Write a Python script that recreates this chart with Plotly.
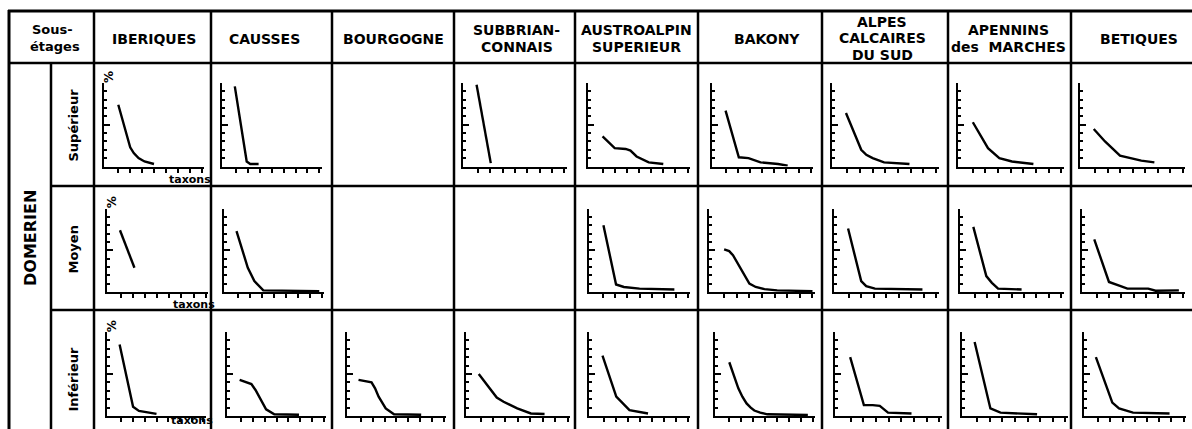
import plotly.graph_objects as go

# ---------------- data ----------------
HEADERS = [["IBERIQUES"], ["CAUSSES"], ["BOURGOGNE"], ["SUBBRIAN-", "CONNAIS"],
           ["AUSTROALPIN", "SUPERIEUR"], ["BAKONY"], ["ALPES", "CALCAIRES", "DU SUD"],
           ["APENNINS", "des\u00a0 MARCHES"], ["BETIQUES"]]
CORNER = ["Sous-", "étages"]
STAGE = "DOMERIEN"
SUBSTAGES = ["Supérieur", "Moyen", "Inférieur"]
X_TICKS = [1, 2, 3, 4, 5, 6, 7, 8]
Y_LABEL = "%"
X_LABEL = "taxons"

# Supérieur
SUP_IBER_X = [1, 1.5, 2, 2.3, 2.7, 3.2, 4]
SUP_IBER_Y = [74, 48, 23, 16, 10, 6, 3]
SUP_CAUS_X = [0.9, 1.9, 2.2, 2.9]
SUP_CAUS_Y = [96, 6, 3, 3]
SUP_SUBB_X = [0.9, 2.05]
SUP_SUBB_Y = [98, 4]
SUP_AUST_X = [1, 2, 2.9, 3.3, 3.8, 4.8, 6]
SUP_AUST_Y = [36, 22, 21, 19, 12, 5, 3]
SUP_BAKO_X = [0.95, 2.05, 2.85, 3.85, 5.3, 6.1]
SUP_BAKO_Y = [67, 11, 10, 5, 3, 1]
SUP_ALPE_X = [0.9, 2.1, 2.5, 3, 3.9, 5.9]
SUP_ALPE_Y = [64, 20, 14, 10, 5, 3]
SUP_APEN_X = [1, 2.2, 3.1, 4.1, 5.8]
SUP_APEN_Y = [53, 22, 10, 6, 3]
SUP_BETI_X = [0.9, 1.8, 3, 3.85, 4.7, 5.75]
SUP_BETI_Y = [45, 30, 13, 10, 7, 5]

# Moyen
MOY_IBER_X = [0.9, 2.1]
MOY_IBER_Y = [74, 29]
MOY_CAUS_X = [0.85, 1.8, 2.35, 3.1, 7.8]
MOY_CAUS_Y = [73, 29, 13, 2, 1]
MOY_AUST_X = [1, 2.05, 2.7, 4, 6.9]
MOY_AUST_Y = [80, 9, 6, 4, 3]
MOY_BAKO_X = [1, 1.4, 1.7, 2, 2.35, 2.7, 3, 3.5, 4.2, 5.2, 8]
MOY_BAKO_Y = [51, 49, 44, 36, 26, 17, 10, 6, 3.5, 2, 1]
MOY_ALPE_X = [0.95, 2, 2.4, 3.1, 6.9]
MOY_ALPE_Y = [76, 13, 7, 4, 3]
MOY_APEN_X = [0.9, 1.6, 1.95, 2.4, 2.9, 4.8]
MOY_APEN_Y = [78, 40, 19, 11, 4, 3]
MOY_BETI_X = [0.8, 2, 2.95, 3.5, 5.2, 5.8, 7.7]
MOY_BETI_Y = [63, 12, 7, 4, 4, 1.5, 2]

# Inférieur
INF_IBER_X = [0.85, 2, 2.5, 3, 4]
INF_IBER_Y = [85, 11, 6, 5, 2.5]
INF_CAUS_X = [0.85, 1.85, 2.2, 2.55, 3.1, 3.8, 5.9]
INF_CAUS_Y = [43, 38, 31, 22, 8, 2, 1.5]
INF_BOUR_X = [0.8, 1.9, 2.2, 2.5, 3.1, 3.8, 6.1]
INF_BOUR_Y = [43, 40, 33, 23, 9, 2, 1.5]
INF_SUBB_X = [0.85, 1.6, 2.3, 2.85, 3.95, 5.05, 6.15]
INF_SUBB_Y = [50, 36, 22, 17, 9, 3, 2.4]
INF_AUST_X = [0.9, 2.05, 3.15, 4.7]
INF_AUST_Y = [72, 23, 7, 3]
INF_BAKO_X = [1, 1.4, 1.76, 2.1, 2.45, 2.8, 3.1, 3.6, 4.2, 7.6]
INF_BAKO_Y = [64, 47, 33, 23, 15, 10, 6.5, 4, 2, 1.2]
INF_ALPE_X = [0.97, 2.05, 2.75, 3.3, 3.95, 5.8]
INF_ALPE_Y = [70, 13, 13, 12, 4, 3]
INF_APEN_X = [0.8, 2.05, 2.85, 5.75]
INF_APEN_Y = [88, 9, 4, 2]
INF_BETI_X = [0.8, 2.15, 2.7, 3.85, 6.85]
INF_BETI_Y = [70, 16, 9, 4, 3]

PANELS = {
    (0, 0): (SUP_IBER_X, SUP_IBER_Y), (0, 1): (SUP_CAUS_X, SUP_CAUS_Y),
    (0, 3): (SUP_SUBB_X, SUP_SUBB_Y), (0, 4): (SUP_AUST_X, SUP_AUST_Y),
    (0, 5): (SUP_BAKO_X, SUP_BAKO_Y), (0, 6): (SUP_ALPE_X, SUP_ALPE_Y),
    (0, 7): (SUP_APEN_X, SUP_APEN_Y), (0, 8): (SUP_BETI_X, SUP_BETI_Y),
    (1, 0): (MOY_IBER_X, MOY_IBER_Y), (1, 1): (MOY_CAUS_X, MOY_CAUS_Y),
    (1, 4): (MOY_AUST_X, MOY_AUST_Y), (1, 5): (MOY_BAKO_X, MOY_BAKO_Y),
    (1, 6): (MOY_ALPE_X, MOY_ALPE_Y), (1, 7): (MOY_APEN_X, MOY_APEN_Y),
    (1, 8): (MOY_BETI_X, MOY_BETI_Y),
    (2, 0): (INF_IBER_X, INF_IBER_Y), (2, 1): (INF_CAUS_X, INF_CAUS_Y),
    (2, 2): (INF_BOUR_X, INF_BOUR_Y), (2, 3): (INF_SUBB_X, INF_SUBB_Y),
    (2, 4): (INF_AUST_X, INF_AUST_Y), (2, 5): (INF_BAKO_X, INF_BAKO_Y),
    (2, 6): (INF_ALPE_X, INF_ALPE_Y), (2, 7): (INF_APEN_X, INF_APEN_Y),
    (2, 8): (INF_BETI_X, INF_BETI_Y),
}

# ---------------- layout geometry (pixels) ----------------
W, H = 1192, 429
COL_LINES = [211, 332, 454, 575, 698, 822, 948, 1071]
CELL_CENTERS = [152.5, 271.5, 393, 514.5, 636.5, 760, 885, 1009.5, 1131.5]
AX_TOP = [83, 208.5, 332]
AX_BOT = [166.5, 292, 416]
AX_LEFT = [
    [104, 221.7, None, 463, 588, 711.7, 832, 957.7, 1080],
    [106.7, 224, None, None, 589, 709, 833.7, 959.7, 1082],
    [107.3, 227.3, 346.7, 465.7, 589.3, 715, 835.3, 962, 1083.7],
]
AX_RIGHT = [
    [204, 321.7, None, 566.7, 690, 813, 938.7, 1063.7, 1185],
    [208, 324, None, None, 690, 815, 938.7, 1063.7, 1185],
    [205.7, 326, 446, 570, 690, 815, 942, 1068, 1186],
]

def px(x):
    return x / W

def py(y):
    return 1 - y / H

FONT = "DejaVu Sans"
fig = go.Figure()
layout = {}
n = 0
for (r, c), (xs, ys) in PANELS.items():
    n += 1
    sfx = "" if n == 1 else str(n)
    fig.add_trace(go.Scatter(x=xs, y=ys, mode="lines",
                             line=dict(color="black", width=2.4),
                             xaxis="x" + sfx, yaxis="y" + sfx,
                             hoverinfo="skip", showlegend=False))
    layout["xaxis" + sfx] = dict(
        domain=[px(AX_LEFT[r][c]), px(AX_RIGHT[r][c])], anchor="y" + sfx,
        range=[-0.2, 8.2], showgrid=False, zeroline=False,
        showline=True, linecolor="black", linewidth=2,
        ticks="outside", ticklen=4, tickwidth=2, tickcolor="black",
        tickmode="array", tickvals=X_TICKS, showticklabels=False, fixedrange=True)
    layout["yaxis" + sfx] = dict(
        domain=[py(AX_BOT[r]), py(AX_TOP[r])], anchor="x" + sfx,
        range=[0, 100], showgrid=False, zeroline=False,
        showline=True, linecolor="black", linewidth=2,
        ticks="inside", tickmode="linear", tick0=0, dtick=50,
        ticklen=6, tickwidth=2, tickcolor="black",
        minor=dict(ticks="inside", dtick=10, tick0=0, ticklen=3,
                   tickwidth=2, tickcolor="black", showgrid=False),
        showticklabels=False, fixedrange=True)

shapes = []
def hline(y, x0, x1, w=2.5):
    shapes.append(dict(type="line", xref="paper", yref="paper",
                       x0=px(x0), x1=px(x1), y0=py(y), y1=py(y),
                       line=dict(color="black", width=w)))

def vline(x, y0, y1, w=2.5):
    shapes.append(dict(type="line", xref="paper", yref="paper",
                       x0=px(x), x1=px(x), y0=py(y0), y1=py(y1),
                       line=dict(color="black", width=w)))

hline(11, 8, 1195, 3)
hline(63, 8, 1195)
hline(186, 51, 1195)
hline(310, 51, 1195)
vline(9, 10, 440, 3)
vline(51, 63, 440)
vline(94, 10, 440)
for xc in COL_LINES:
    vline(xc, 10, 440)

ann = []
def text(s, x, y, size, angle=0, bold=True):
    ann.append(dict(text=("<b>%s</b>" % s) if bold else s,
                    x=px(x), y=py(y), xref="paper", yref="paper",
                    showarrow=False, textangle=angle,
                    xanchor="center", yanchor="middle",
                    font=dict(family=FONT, size=size, color="black")))

HEADER_Y = {1: [39], 2: [30, 47], 3: [22, 38, 55]}
HEADER_DX = [2, -7, 0, 2, 0, 7, -3, -1, 7]
for c, lines in enumerate(HEADERS):
    ys = HEADER_Y[len(lines)]
    for i, ln in enumerate(lines):
        text(ln, CELL_CENTERS[c] + HEADER_DX[c], ys[i], 14)

text(CORNER[0], 52, 30, 13)
text(CORNER[1], 55, 46, 13)
text(STAGE, 30, 238, 16, angle=-90)
ROW_LABEL_Y = [125, 250, 379]
for r, s in enumerate(SUBSTAGES):
    text(s, 72.5, ROW_LABEL_Y[r], 13, angle=-90)

TAXON_Y = [179, 304, 420]
for r in range(3):
    text(Y_LABEL, AX_LEFT[r][0] + 5, AX_TOP[r] - 6, 12, angle=-90)
    text(X_LABEL, AX_RIGHT[r][0] - 14, TAXON_Y[r], 11)

layout.update(dict(width=W, height=H, margin=dict(l=0, r=0, t=0, b=0),
                   paper_bgcolor="white", plot_bgcolor="white",
                   shapes=shapes, annotations=ann, showlegend=False))
fig.update_layout(**layout)
fig.write_html("out.html")
